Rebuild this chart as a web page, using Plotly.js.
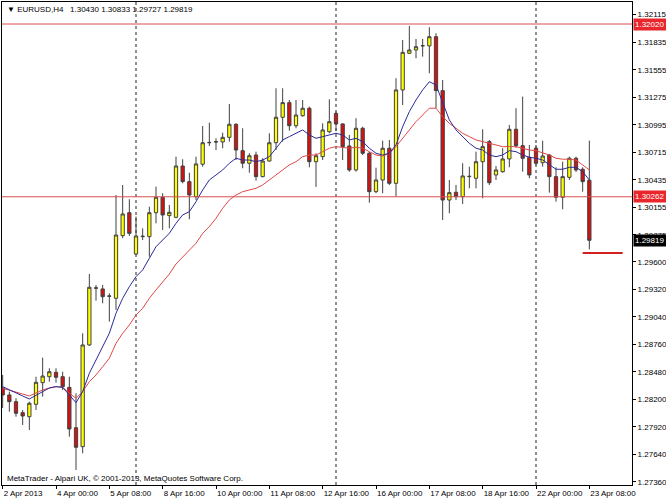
<!DOCTYPE html>
<html><head><meta charset="utf-8">
<script src="https://cdn.plot.ly/plotly-3.0.1.min.js"></script>
<style>html,body{margin:0;padding:0;background:#fff}#chart{width:666px;height:500px}</style>
</head><body><div id="chart"></div>
<script>
const openP = [1.28316,1.28245,1.28177,1.28065,1.28024,1.28150,1.28370,1.28431,1.28476,1.28431,
1.28323,1.27912,1.27719,1.28754,1.29331,1.29324,1.29253,1.29229,1.29866,1.30100,
1.29680,1.29856,1.29856,1.30100,1.30257,1.30070,1.30053,1.30575,1.30416,1.30263,
1.30593,1.30812,1.30823,1.30820,1.30867,1.31000,1.30731,1.30603,1.30687,1.30467,
1.30626,1.30812,1.31071,1.31220,1.30985,1.31087,1.31163,1.30619,1.30670,1.30924,
1.31110,1.31003,1.30779,1.30535,1.30959,1.30705,1.30314,1.30433,1.30756,1.30399,
1.31349,1.31722,1.31756,1.31797,1.31797,1.31891,1.31342,1.30229,1.30308,1.30263,
1.30467,1.30450,1.30619,1.30823,1.30484,1.30517,1.30647,1.30949,1.30782,1.30664,
1.30756,1.30609,1.30687,1.30467,1.30257,1.30460,1.30654,1.30542,1.30430];
const highP = [1.28449,1.28279,1.28212,1.28092,1.28177,1.28431,1.28625,1.28517,1.28517,1.28482,
1.28431,1.28262,1.28873,1.29476,1.29364,1.29364,1.29280,1.30280,1.30382,1.30237,
1.30060,1.29941,1.30161,1.30365,1.30298,1.30179,1.30670,1.30644,1.30507,1.30670,
1.30982,1.31016,1.30857,1.30914,1.31206,1.31010,1.30959,1.30705,1.30721,1.30654,
1.30908,1.31366,1.31366,1.31247,1.31247,1.31247,1.31179,1.30705,1.31010,1.31254,
1.31130,1.31010,1.30891,1.31061,1.30975,1.30718,1.30558,1.30833,1.30840,1.31468,
1.31858,1.32000,1.31868,1.31868,1.31987,1.31926,1.31451,1.30433,1.30382,1.30603,
1.30568,1.30721,1.30949,1.30840,1.30575,1.30756,1.30993,1.31163,1.31281,1.30789,
1.30789,1.30833,1.30698,1.30562,1.30619,1.30670,1.30670,1.30562,1.30833];
const lowP = [1.28113,1.28075,1.28024,1.27940,1.27889,1.28092,1.28228,1.28380,1.28370,1.28296,
1.27821,1.27482,1.27652,1.28744,1.29205,1.29178,1.28991,1.29110,1.29840,1.29863,
1.29670,1.29822,1.29652,1.29992,1.29924,1.29941,1.30043,1.30399,1.30033,1.30229,
1.30568,1.30779,1.30738,1.30756,1.30823,1.30636,1.30552,1.30507,1.30426,1.30460,
1.30619,1.30738,1.30823,1.30935,1.30959,1.31077,1.30562,1.30362,1.30636,1.30908,
1.30930,1.30636,1.30517,1.30517,1.30687,1.30202,1.30298,1.30298,1.30382,1.30263,
1.31196,1.31715,1.31671,1.31688,1.31519,1.31163,1.30026,1.30094,1.30229,1.30189,
1.30348,1.30348,1.30247,1.30382,1.30433,1.30507,1.30562,1.30759,1.30517,1.30450,
1.30586,1.30568,1.30304,1.30212,1.30135,1.30433,1.30514,1.30314,1.29727];
const closeP = [1.28245,1.28177,1.28059,1.28031,1.28161,1.28374,1.28438,1.28482,1.28425,1.28330,
1.27899,1.27713,1.28754,1.29341,1.29335,1.29245,1.29250,1.29873,1.30087,1.29890,
1.29863,1.29860,1.30100,1.30257,1.30077,1.30104,1.30575,1.30416,1.30280,1.30596,
1.30812,1.30815,1.30820,1.30867,1.31000,1.30738,1.30603,1.30680,1.30467,1.30626,
1.30812,1.31071,1.31220,1.30985,1.31094,1.31163,1.30619,1.30680,1.30942,1.31026,
1.31003,1.30772,1.30535,1.30959,1.30705,1.30314,1.30433,1.30756,1.30399,1.31349,
1.31732,1.31756,1.31789,1.31800,1.31891,1.31342,1.30229,1.30304,1.30263,1.30474,
1.30470,1.30619,1.30772,1.30405,1.30535,1.30647,1.30949,1.30782,1.30654,1.30484,
1.30603,1.30677,1.30467,1.30257,1.30467,1.30654,1.30535,1.30416,1.29819];
const maFast = [1.28330,1.28296,1.28265,1.28235,1.28204,1.28245,1.28279,1.28316,1.28330,1.28323,
1.28245,1.28167,1.28279,1.28466,1.28601,1.28737,1.28873,1.29076,1.29229,1.29347,
1.29449,1.29517,1.29639,1.29754,1.29822,1.29890,1.29992,1.30077,1.30110,1.30212,
1.30331,1.30433,1.30484,1.30535,1.30603,1.30654,1.30636,1.30636,1.30619,1.30636,
1.30670,1.30756,1.30840,1.30874,1.30908,1.30942,1.30891,1.30857,1.30874,1.30891,
1.30908,1.30891,1.30840,1.30857,1.30823,1.30756,1.30705,1.30687,1.30705,1.30789,
1.30975,1.31128,1.31247,1.31349,1.31433,1.31400,1.31230,1.31044,1.30942,1.30870,
1.30806,1.30756,1.30738,1.30687,1.30670,1.30687,1.30731,1.30721,1.30687,1.30664,
1.30654,1.30636,1.30586,1.30542,1.30542,1.30562,1.30562,1.30517,1.30433];
const maSlow = [1.28313,1.28296,1.28279,1.28255,1.28235,1.28265,1.28296,1.28316,1.28330,1.28323,
1.28262,1.28212,1.28279,1.28380,1.28449,1.28533,1.28619,1.28771,1.28873,1.28957,
1.29059,1.29127,1.29229,1.29314,1.29395,1.29476,1.29578,1.29652,1.29721,1.29789,
1.29890,1.29958,1.30043,1.30145,1.30229,1.30280,1.30314,1.30331,1.30348,1.30382,
1.30433,1.30484,1.30535,1.30586,1.30619,1.30670,1.30687,1.30687,1.30721,1.30756,
1.30772,1.30766,1.30756,1.30766,1.30756,1.30721,1.30687,1.30677,1.30705,1.30772,
1.30857,1.30942,1.31026,1.31094,1.31163,1.31163,1.31077,1.31010,1.30959,1.30908,
1.30874,1.30840,1.30823,1.30806,1.30789,1.30772,1.30772,1.30772,1.30756,1.30738,
1.30731,1.30711,1.30687,1.30654,1.30644,1.30644,1.30636,1.30586,1.30535];
const xTickIdx = [0,8,16,24,32,40,48,56,64,72,80,88];
const xTickText = ["2 Apr 2013","4 Apr 00:00","5 Apr 08:00","8 Apr 16:00","10 Apr 00:00","11 Apr 08:00",
"12 Apr 16:00","16 Apr 00:00","17 Apr 08:00","18 Apr 16:00","22 Apr 00:00","23 Apr 08:00"];
const yTickText = ["1.32115","1.31835","1.31555","1.31275","1.30995","1.30715","1.30435","1.30155","1.29875",
"1.29600","1.29320","1.29040","1.28760","1.28480","1.28200","1.27920","1.27640","1.27360"];
const yTickVals = yTickText.map(Number);
const weekSeparators = [20,50,80];
const levelLines = [1.32020,1.30262];
const markLevel = 1.29690, markFrom = 87, markTo = 93;
const headerText = "\u25BC EURUSD,H4\u00a0\u00a0 1.30430 1.30833 1.29727 1.29819";
const copyrightText = "MetaTrader - Alpari UK, \u00a9 2001-2013, MetaQuotes Software Corp.";
const priceTags = [
  {text:"1.32020", y:1.32020, bg:"#e8262b"},
  {text:"1.30262", y:1.30262, bg:"#e8262b"},
  {text:"1.29819", y:1.29819, bg:"#000000"}
];

const idx = openP.map((_, i) => i);
const traces = [
  {type:'scatter', mode:'lines', x:idx, y:maSlow, line:{color:'#e04848', width:1}, hoverinfo:'skip'},
  {type:'scatter', mode:'lines', x:idx, y:maFast, line:{color:'#2a2a9a', width:1}, hoverinfo:'skip'},
  {type:'candlestick', x:idx, open:openP, high:highP, low:lowP, close:closeP,
   whiskerwidth:0,
   increasing:{fillcolor:'#ffff00', line:{color:'#404040', width:1}},
   decreasing:{fillcolor:'#d81010', line:{color:'#404040', width:1}}}
];
const shapes = [];
weekSeparators.forEach(s => shapes.push({type:'line', xref:'x', yref:'paper', x0:s, x1:s, y0:0, y1:1,
  line:{color:'#202020', width:1, dash:'dot'}, layer:'below'}));
levelLines.forEach(v => shapes.push({type:'line', xref:'paper', yref:'y', x0:0, x1:1, y0:v, y1:v,
  line:{color:'#d85050', width:1}}));
shapes.push({type:'line', xref:'x', yref:'y', x0:markFrom, x1:markTo, y0:markLevel, y1:markLevel,
  line:{color:'#d02020', width:2}});
const annotations = [
  {xref:'paper', yref:'paper', x:0, y:1, xanchor:'left', yanchor:'top', xshift:3, yshift:-1,
   text:headerText, showarrow:false, font:{size:8, color:'#000'}},
  {xref:'paper', yref:'paper', x:0, y:0, xanchor:'left', yanchor:'bottom', xshift:3, yshift:0,
   text:copyrightText, showarrow:false, font:{size:8, color:'#000'}}
];
priceTags.forEach(t => annotations.push({xref:'paper', yref:'y', x:1, y:t.y, xanchor:'left', yanchor:'middle',
  xshift:1, text:t.text, showarrow:false, bgcolor:t.bg, borderpad:1, width:31, align:'left',
  font:{size:8, color:'#fff'}}));

const layout = {
  width:666, height:500,
  margin:{l:2, r:34, t:2, b:15, pad:0},
  paper_bgcolor:'#fff', plot_bgcolor:'#fff',
  showlegend:false,
  font:{family:'"Liberation Sans", Arial, "DejaVu Sans", sans-serif', size:8, color:'#000'},
  boxgap:0.3,
  xaxis:{type:'linear', range:[-0.1, 94.4], tickvals:xTickIdx, ticktext:xTickText, tickangle:0, ticks:'outside', ticklen:3,
    tickcolor:'#000', ticklabelposition:'outside right', showgrid:false, zeroline:false, showline:true,
    linecolor:'#000', linewidth:1, mirror:true, rangeslider:{visible:false}, fixedrange:true, tickfont:{size:8}},
  yaxis:{side:'right', range:[1.27329, 1.32244], tickvals:yTickVals, ticktext:yTickText, ticks:'outside', ticklen:3,
    tickcolor:'#000', showgrid:false, zeroline:false, showline:true, linecolor:'#000', linewidth:1, mirror:true,
    fixedrange:true, tickfont:{size:8}},
  shapes:shapes, annotations:annotations
};
Plotly.newPlot('chart', traces, layout, {displayModeBar:false, staticPlot:true});
</script>
</body></html>
